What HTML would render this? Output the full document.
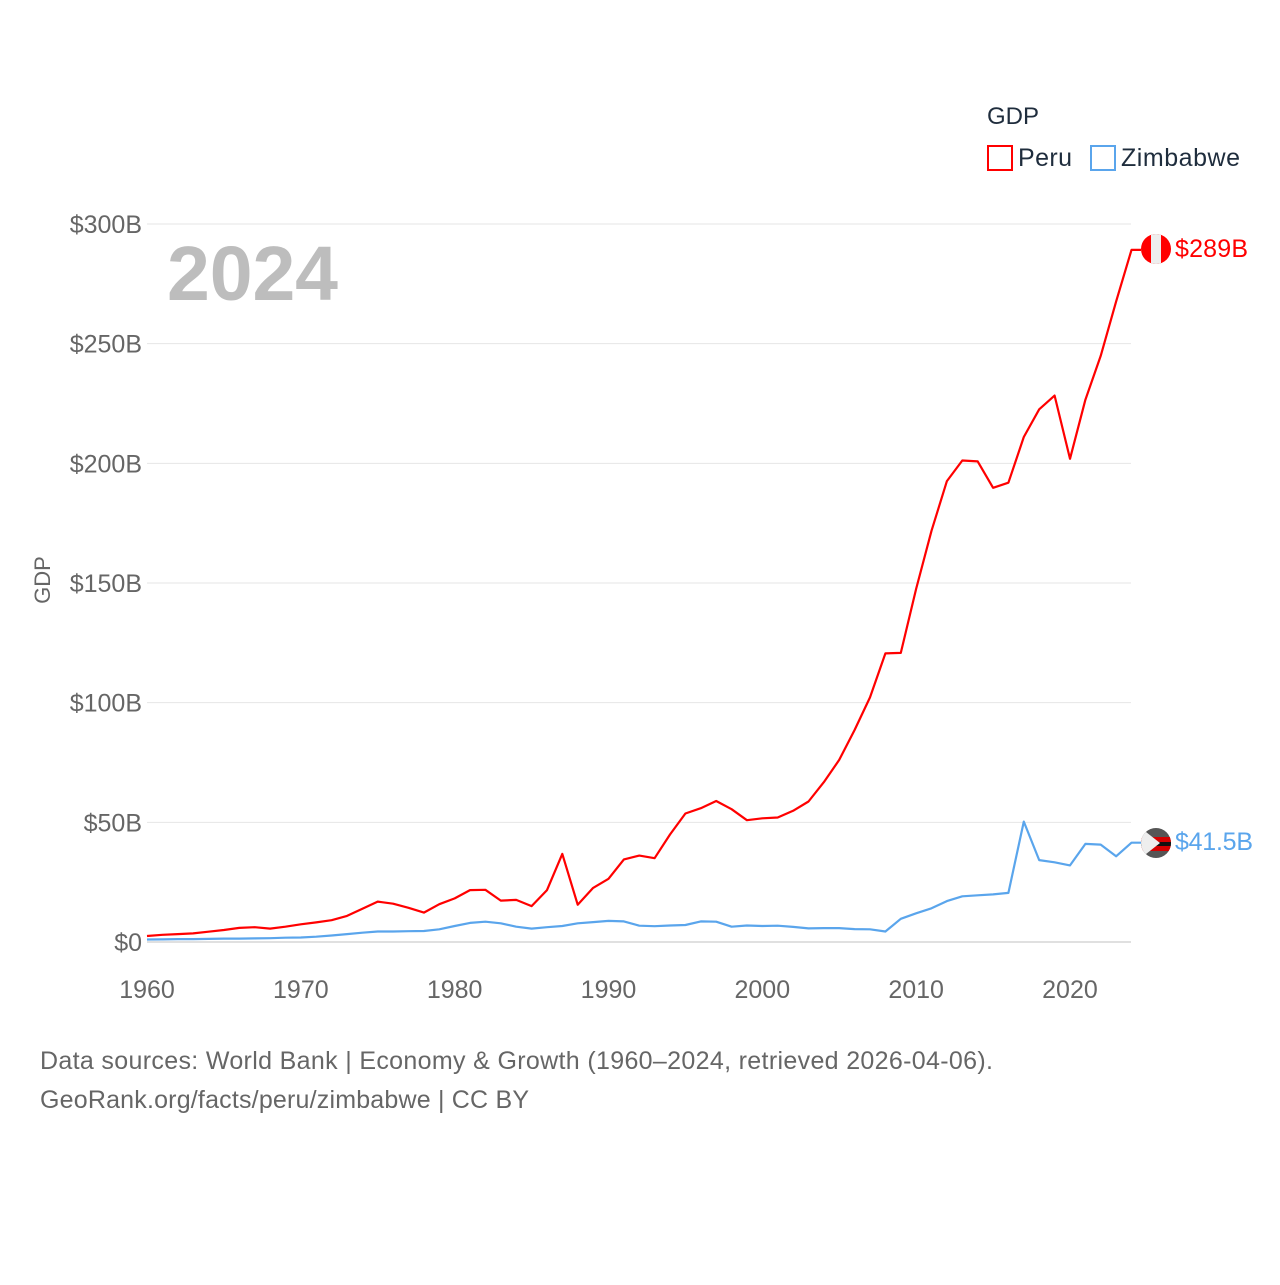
<!DOCTYPE html>
<html><head><meta charset="utf-8"><style>
body{margin:0;background:#fff;width:1280px;height:1280px;overflow:hidden;font-family:"Liberation Sans",sans-serif}
text{font-family:"Liberation Sans",sans-serif}
</style></head><body>
<svg id="chart" width="1280" height="1280" xmlns="http://www.w3.org/2000/svg">
<g id="grid"></g>
<g id="yt"></g>
<g id="xt"></g>
<text x="167" y="300" font-size="77" font-weight="bold" fill="#bdbdbd" textLength="171">2024</text>
<text transform="translate(50,580) rotate(-90)" text-anchor="middle" font-size="22" fill="#666">GDP</text>
<g id="lines"></g>
<g>
<text x="987" y="124" font-size="24" fill="#1f2d3d">GDP</text>
<rect x="988" y="146" width="24" height="24" fill="none" stroke="#ff0000" stroke-width="2"/>
<text x="1018" y="166" font-size="25" fill="#1f2d3d" textLength="54">Peru</text>
<rect x="1091" y="146" width="24" height="24" fill="none" stroke="#5aa5ec" stroke-width="2"/>
<text x="1121" y="166" font-size="25" fill="#1f2d3d" textLength="119">Zimbabwe</text>
</g>
<g>
<clipPath id="cp1"><circle cx="1156" cy="249" r="15"/></clipPath>
<g clip-path="url(#cp1)"><rect x="1141" y="234" width="30" height="30" fill="#ff0000"/><rect x="1151" y="234" width="10" height="30" fill="#eee"/></g>
<text x="1175" y="257" font-size="25" fill="#ff0000" textLength="73">$289B</text>
</g>
<g>
<clipPath id="cp2"><circle cx="1156" cy="843" r="15"/></clipPath>
<g clip-path="url(#cp2)"><rect x="1141" y="828" width="30" height="30" fill="#555"/><rect x="1141" y="837" width="30" height="5" fill="#d40000"/><rect x="1141" y="842" width="30" height="4" fill="#111"/><rect x="1141" y="846" width="30" height="5" fill="#d40000"/><polygon points="1141,828 1160,843 1141,858" fill="#eee"/></g>
<text x="1175" y="850" font-size="25" fill="#5aa5ec" textLength="78">$41.5B</text>
</g>
<text x="40" y="1069" font-size="25" fill="#666" textLength="953">Data sources: World Bank | Economy &amp; Growth (1960–2024, retrieved 2026-04-06).</text>
<text x="40" y="1108" font-size="25" fill="#666" textLength="489">GeoRank.org/facts/peru/zimbabwe | CC BY</text>
</svg>
<script>
const years=[];for(let y=1960;y<=2024;y++)years.push(y);
const peru=[2.5,3.0,3.3,3.6,4.3,5.0,5.9,6.2,5.6,6.4,7.4,8.2,9.1,10.9,13.9,16.9,16.0,14.3,12.3,15.8,18.2,21.7,21.8,17.3,17.6,15.0,21.7,36.8,15.6,22.6,26.4,34.5,36.1,35.0,44.9,53.7,55.9,58.9,55.5,50.9,51.7,52.0,54.8,58.7,66.8,76.1,88.6,102.2,120.6,120.8,147.5,171.8,192.6,201.2,200.8,189.8,191.9,211.0,222.6,228.3,201.9,226.6,244.9,267.6,289.2];
const zimbabwe=[1.05,1.1,1.2,1.2,1.3,1.4,1.4,1.5,1.6,1.8,1.9,2.2,2.7,3.3,3.9,4.4,4.4,4.5,4.6,5.3,6.7,8.0,8.5,7.8,6.4,5.6,6.2,6.7,7.8,8.3,8.8,8.6,6.8,6.6,6.9,7.1,8.6,8.5,6.4,6.9,6.7,6.8,6.3,5.7,5.8,5.8,5.4,5.3,4.4,9.7,12.0,14.1,17.1,19.1,19.5,19.9,20.5,50.3,34.2,33.3,32.0,41.0,40.7,35.8,41.5];
const yTicks=[0,50,100,150,200,250,300];
const yTickLabels=["$0","$50B","$100B","$150B","$200B","$250B","$300B"];
const xTicks=[1960,1970,1980,1990,2000,2010,2020];
const X=v=>147+(v-1960)*15.383, Y=v=>942-v*2.3933;
const NS="http://www.w3.org/2000/svg";
const mk=(t,a,p)=>{const e=document.createElementNS(NS,t);for(const k in a)e.setAttribute(k,a[k]);p.appendChild(e);return e;};
const grid=document.getElementById('grid'),yt=document.getElementById('yt'),xt=document.getElementById('xt'),lines=document.getElementById('lines');
yTicks.forEach((v,i)=>{
 const l=mk('line',{x1:147,x2:1131,y1:Y(v),y2:Y(v),stroke:v===0?'#e0e0e0':'#e6e6e6','stroke-width':v===0?2:1},grid);
 
 
 const t=mk('text',{x:142,y:Y(v)+9,'text-anchor':'end','font-size':25,fill:'#666'},yt);
 t.textContent=yTickLabels[i];
 
 
});
xTicks.forEach(v=>{
 const t=mk('text',{x:X(v),y:998,'text-anchor':'middle','font-size':25,fill:'#666'},xt);
 t.textContent=v;
 
 
});
function line(vals,col,name){
 const pts=vals.map((v,i)=>X(years[i]).toFixed(1)+','+Y(v).toFixed(1));
 pts.push('1141,'+Y(vals[vals.length-1]).toFixed(1));
 const p=mk('polyline',{points:pts.join(' '),fill:'none',stroke:col,'stroke-width':2.2,'stroke-linejoin':'round'},lines);
 
 
}
line(zimbabwe,'#5aa5ec','zimbabwe-line');
line(peru,'#ff0000','peru-line');
</script>
</body></html>
